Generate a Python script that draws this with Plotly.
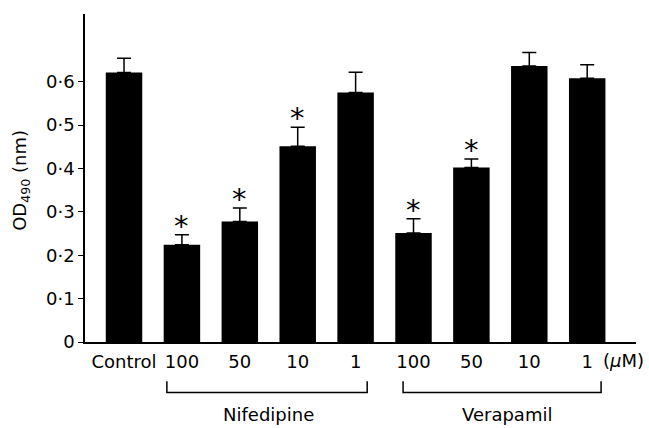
import plotly.graph_objects as go

# ---- data ----
x_labels = ["Control", "100", "50", "10", "1", "100", "50", "10", "1"]
means = [0.621, 0.224, 0.278, 0.451, 0.575, 0.251, 0.402, 0.636, 0.608]
errors = [0.033, 0.023, 0.031, 0.044, 0.047, 0.033, 0.020, 0.031, 0.031]
significant = [False, True, True, True, False, True, True, False, False]
y_tick_vals = [0, 0.1, 0.2, 0.3, 0.4, 0.5, 0.6]
y_tick_text = ["0", "0·1", "0·2", "0·3", "0·4", "0·5", "0·6"]
groups = ["Nifedipine", "Verapamil"]
group_spans = [(0.74, 4.2), (4.82, 8.24)]
group_label_x = [2.49, 6.61]
y_title = "OD<sub>490</sub> (nm)"

FONT = "DejaVu Sans"
FS = 18
positions = list(range(len(means)))

fig = go.Figure()
fig.add_trace(go.Bar(
    x=positions, y=means, width=0.63,
    marker=dict(color="black", line=dict(width=0)),
    error_y=dict(type="data", array=errors, arrayminus=[0] * len(errors),
                 symmetric=False, color="black", thickness=1.5, width=7),
    showlegend=False,
))

annotations = []
for p, m, e, s in zip(positions, means, errors, significant):
    if s:
        annotations.append(dict(x=p, y=m + e, xref="x", yref="y", text="*",
                                showarrow=False, yanchor="bottom", yshift=-10,
                                font=dict(family=FONT, size=29, color="black")))

annotations.append(dict(x=8.62, y=0, xref="x", yref="paper", text="(<i>μ</i>M)",
                        showarrow=False, yanchor="top", yshift=-6,
                        font=dict(family=FONT, size=FS, color="black")))

# y-axis title
annotations.append(dict(x=-0.116, y=0.4916, xref="paper", yref="paper", text=y_title,
                        textangle=-90, showarrow=False, xanchor="center", yanchor="middle",
                        font=dict(family=FONT, size=FS, color="black")))

shapes = []
y_h = -0.1537
y_t = -0.1193
for (a, b), name, lx in zip(group_spans, groups, group_label_x):
    shapes.append(dict(type="path", xref="x", yref="paper",
                       path=f"M {a} {y_t} L {a} {y_h} L {b} {y_h} L {b} {y_t}",
                       line=dict(color="black", width=1.5)))
    annotations.append(dict(x=lx, y=-0.2207, xref="x", yref="paper", text=name,
                            showarrow=False, yanchor="middle",
                            font=dict(family=FONT, size=FS, color="black")))

fig.update_layout(
    width=649, height=428,
    margin=dict(l=85, r=13, t=14, b=85.5),
    paper_bgcolor="white", plot_bgcolor="white",
    font=dict(family=FONT, size=FS, color="black"),
    xaxis=dict(range=[-0.674, 8.843], tickvals=positions, ticktext=x_labels,
               showline=True, linecolor="black", linewidth=1.5, ticks="",
               showgrid=False, zeroline=False, ticklabelstandoff=3,
               tickfont=dict(family=FONT, size=FS, color="black")),
    yaxis=dict(range=[0, 0.756], tickvals=y_tick_vals, ticktext=y_tick_text,
               showline=True, linecolor="black", linewidth=1.5, ticks="outside",
               ticklen=5, tickwidth=1.2, tickcolor="black",
               showgrid=False, zeroline=False,
               tickfont=dict(family=FONT, size=FS, color="black")),
    annotations=annotations,
    shapes=shapes,
)

fig.write_html("out.html", config={"displayModeBar": False},
               post_script="document.body.style.margin='0';")
